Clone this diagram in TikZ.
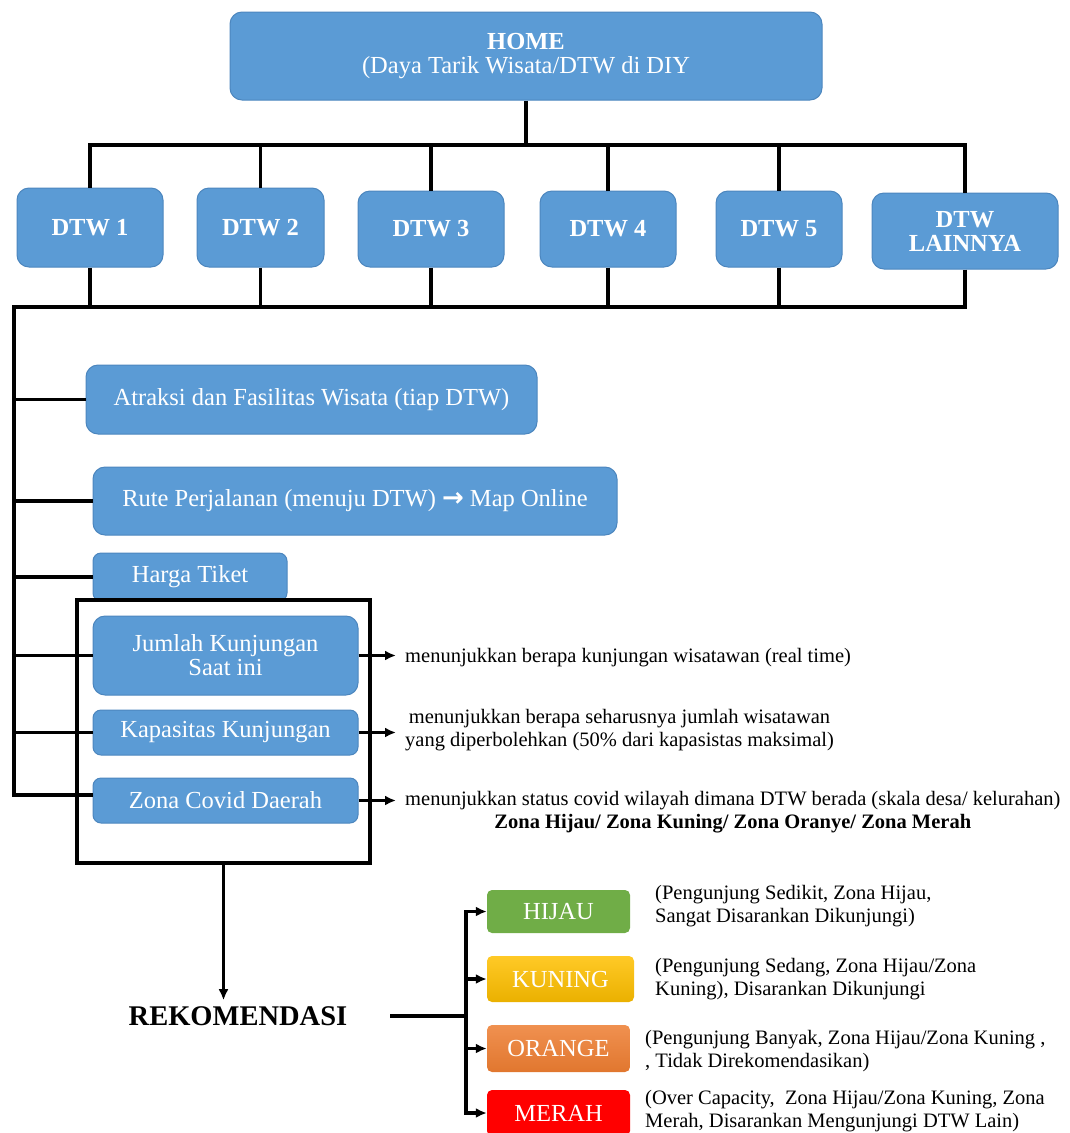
\documentclass[tikz,border=0pt]{standalone}
\usepackage{fontspec}
\setmainfont{Liberation Serif}
\newfontfamily\arrowfont{DejaVu Sans}
\usetikzlibrary{arrows.meta}

\definecolor{dtwblue}{HTML}{5B9BD5}
\definecolor{dtwedge}{HTML}{4C86BE}
\definecolor{zhijau}{HTML}{70AD47}
\definecolor{zkuning}{HTML}{FFC000}
\definecolor{zorange}{HTML}{ED7D31}
\definecolor{zmerah}{HTML}{FF0000}

\newcommand{\bodyfs}{\fontsize{24.5}{24}\selectfont}
\newcommand{\notefs}{\fontsize{20.5}{22.5}\selectfont}
\newcommand{\rekfs}{\fontsize{28.5}{30}\selectfont}

\tikzset{
  blubox/.style={draw=dtwedge, fill=dtwblue, line width=1pt, rounded corners=12pt,
    text=white, font=\bodyfs, align=center, inner sep=0pt},
  dtwbox/.style={blubox, font=\bodyfs\bfseries},
  zonebox/.style={rounded corners=5pt, text=white, font=\bodyfs, inner sep=0pt,
    minimum width=143pt},
  note/.style={font=\notefs, inner xsep=9pt, inner ysep=0pt},
  conn/.style={line width=3.4pt}
}

\begin{document}
\begin{tikzpicture}[x=1pt, y=-1pt, >={Latex[length=11pt,width=10pt]}]
   \useasboundingbox (0,0) rectangle (1070,1133);

   % home and the six DTW
   \node[blubox, minimum width=592pt, minimum height=88pt] (home) at (526,56)
      {\textbf{HOME}\\(Daya Tarik Wisata/DTW di DIY};
   \node[dtwbox, minimum width=146pt, minimum height=79pt] (d1) at (90,227.5) {DTW 1};
   \node[dtwbox, minimum width=127pt, minimum height=79pt] (d2) at (260.5,227.5) {DTW 2};
   \node[dtwbox, minimum width=146pt, minimum height=76pt] (d3) at (431,229) {DTW 3};
   \node[dtwbox, minimum width=136pt, minimum height=76pt] (d4) at (608,229) {DTW 4};
   \node[dtwbox, minimum width=126pt, minimum height=76pt] (d5) at (779,229) {DTW 5};
   \node[dtwbox, minimum width=186pt, minimum height=76pt] (d6) at (965,231) {DTW\\LAINNYA};

   \coordinate (bus1) at (14,145);
   \coordinate (bus2) at (14,307);
   \coordinate (bus3) at (14,795);
   \draw[conn] (home.south) -- (home.south |- bus1);
   \draw[conn] (d1.north) -- (d1.north |- bus1) -- (d6.north |- bus1) -- (d6.north);
   \foreach \d in {d2,d3,d4,d5}
      \draw[conn] (\d.north) -- (\d.north |- bus1);

   % information per DTW
   \node[blubox, minimum width=451pt, minimum height=69pt] (atraksi) at (311.5,399.5)
      {Atraksi dan Fasilitas Wisata (tiap DTW)};
   \node[blubox, minimum width=524pt, minimum height=68pt] (rute) at (355,501)
      {Rute Perjalanan (menuju DTW) {\arrowfont\bfseries\fontsize{26}{26}\selectfont →} Map Online};
   \node[blubox, rounded corners=8pt, minimum width=194pt, minimum height=48pt] (harga) at (190,577)
      {Harga Tiket};
   \node[draw, conn, minimum width=293pt, minimum height=263pt, inner sep=0pt] (grp) at (223.5,731.5) {};
   \node[blubox, minimum width=265pt, minimum height=79pt] (jumlah) at (225.5,655.5)
      {Jumlah Kunjungan\\Saat ini};
   \node[blubox, rounded corners=8pt, minimum width=265pt, minimum height=45pt] (kapasitas) at (225.5,732.5)
      {Kapasitas Kunjungan};
   \node[blubox, rounded corners=8pt, minimum width=265pt, minimum height=45pt] (zona) at (225.5,800.5)
      {Zona Covid Daerah};

   \draw[conn] (d1.south) -- (d1.south |- bus2);
   \draw[conn] (d6.south) -- (d6.south |- bus2) -- (bus2) -- (bus3) -- (bus3 -| zona.west);
   \foreach \d in {d2,d3,d4,d5}
      \draw[conn] (\d.south) -- (\d.south |- bus2);
   \foreach \b in {atraksi,rute,harga,jumlah,kapasitas}
      \draw[conn] (\b.west) -- (\b.west -| bus2);

   % notes
   \node[note, anchor=west] (n1) at (396,658)
      {menunjukkan berapa kunjungan wisatawan (real time)};
   \node[note, anchor=west, align=center] (n2) at (396,730)
      {menunjukkan berapa seharusnya jumlah wisatawan\\yang diperbolehkan (50\% dari kapasistas maksimal)};
   \node[note, anchor=west, align=center] (n3) at (396,812)
      {menunjukkan status covid wilayah dimana DTW berada (skala desa/ kelurahan)\\
       \textbf{Zona Hijau/ Zona Kuning/ Zona Oranye/ Zona Merah}};
   \draw[conn,->] (jumlah.east) -- (jumlah.east -| n1.west);
   \draw[conn,->] (kapasitas.east) -- (kapasitas.east -| n2.west);
   \draw[conn,->] (zona.east) -- (zona.east -| n3.west);

   % recommendation
   \node[font=\rekfs\bfseries, inner sep=6pt] (rekom) at (238,1016) {REKOMENDASI};
   \draw[conn,->] (grp.south) -- (grp.south |- rekom.north);

   \node[zonebox, fill=zhijau, minimum height=43pt] (hijau) at (558.5,911.5) {HIJAU};
   \node[zonebox, top color=zkuning!85!white, bottom color=zkuning!92!black,
      minimum width=147pt, minimum height=46pt] (kuning) at (560.5,979) {KUNING};
   \node[zonebox, top color=zorange!85!white, bottom color=zorange!95!black,
      minimum height=47pt] (orange) at (558.5,1048.5) {ORANGE};
   \node[zonebox, fill=zmerah, minimum height=46pt] (merah) at (558.5,1113) {MERAH};

   \coordinate (rk) at (390,1016);
   \coordinate (split) at (466,1016);
   \draw[conn] (rk) -- (split);
   \foreach \z in {hijau,kuning,orange,merah}
      \draw[conn,->] (split) |- (\z.west);

   \node[note, anchor=west, align=left, inner xsep=0pt] (dh) at (655,906)
      {(Pengunjung Sedikit, Zona Hijau,\\Sangat Disarankan Dikunjungi)};
   \node[note, anchor=west, align=left, inner xsep=0pt] (dk) at (655,979)
      {(Pengunjung Sedang, Zona Hijau/Zona\\Kuning), Disarankan Dikunjungi};
   \node[note, anchor=west, align=left, inner xsep=0pt] (do) at (645,1051)
      {(Pengunjung Banyak, Zona Hijau/Zona Kuning ,\\, Tidak Direkomendasikan)};
   \node[note, anchor=west, align=left, inner xsep=0pt] (dm) at (645,1111)
      {(Over Capacity,~ Zona Hijau/Zona Kuning, Zona\\Merah, Disarankan Mengunjungi DTW Lain)};
\end{tikzpicture}
\end{document}
